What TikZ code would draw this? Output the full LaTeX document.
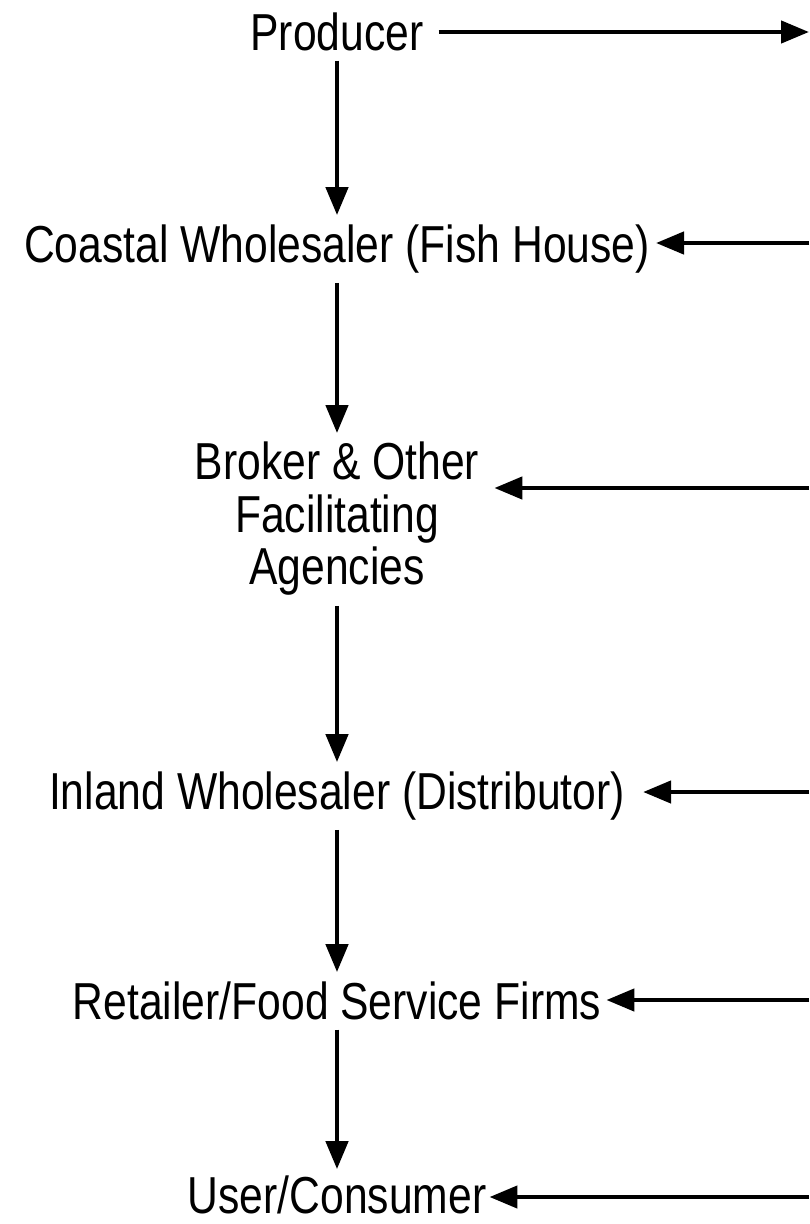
\documentclass[tikz,border=0pt]{standalone}
\usepackage{fontspec}
\setmainfont{Liberation Sans}[FakeStretch=0.82]
\usetikzlibrary{arrows.meta,calc}
\tikzset{
  stage/.style={inner sep=0pt,font=\fontsize{52}{52.5}\selectfont,align=center},
  flow/.style={line width=4.5pt,-{Triangle[length=28pt,width=22pt]}},
  down/.style={flow,shorten <=10pt,shorten >=9pt}
}
\begin{document}
\begin{tikzpicture}[x=1pt,y=-1pt]
\useasboundingbox (0,0) rectangle (809,1224);

%the stages of the channel
\node[stage,anchor=base] (prod) at (337,50) {Producer};
\node[stage,anchor=base] (coastal) at (337,262) {Coastal Wholesaler (Fish House)};
\node[stage] (broker) at (337,519) {Broker \& Other\\Facilitating\\Agencies};
\node[stage,anchor=base] (inland) at (337,809) {Inland Wholesaler (Distributor)};
\node[stage,anchor=base] (retail) at (337,1019) {Retailer/Food Service Firms};
\node[stage,anchor=base] (user) at (337,1213) {User/Consumer};

%right edge
\coordinate (e1) at (809,32);
\coordinate (e2) at (809,243);
\coordinate (e3) at (809,488);
\coordinate (e4) at (809,792);
\coordinate (e5) at (809,1000);
\coordinate (e6) at (809,1197);

%down the channel
\draw[down] (prod.south) -- (coastal.north);
\draw[down] (coastal.south) -- (broker.north);
\draw[down] (broker.south) -- (inland.north);
\draw[down] (inland.south) -- (retail.north);
\draw[down,shorten >=6pt] (retail.south) -- (user.north);

%side arrows
\draw[flow,shorten <=15pt] (prod.east |- e1) -- (e1);
\draw[flow,shorten >=6pt] (e2) -- (e2 -| coastal.east);
\draw[flow,shorten >=15pt] (e3) -- (e3 -| broker.east);
\draw[flow,shorten >=18pt] (e4) -- (e4 -| inland.east);
\draw[flow,shorten >=5pt] (e5) -- (e5 -| retail.east);
\draw[flow,shorten >=3pt] (e6) -- (e6 -| user.east);
\end{tikzpicture}
\end{document}
